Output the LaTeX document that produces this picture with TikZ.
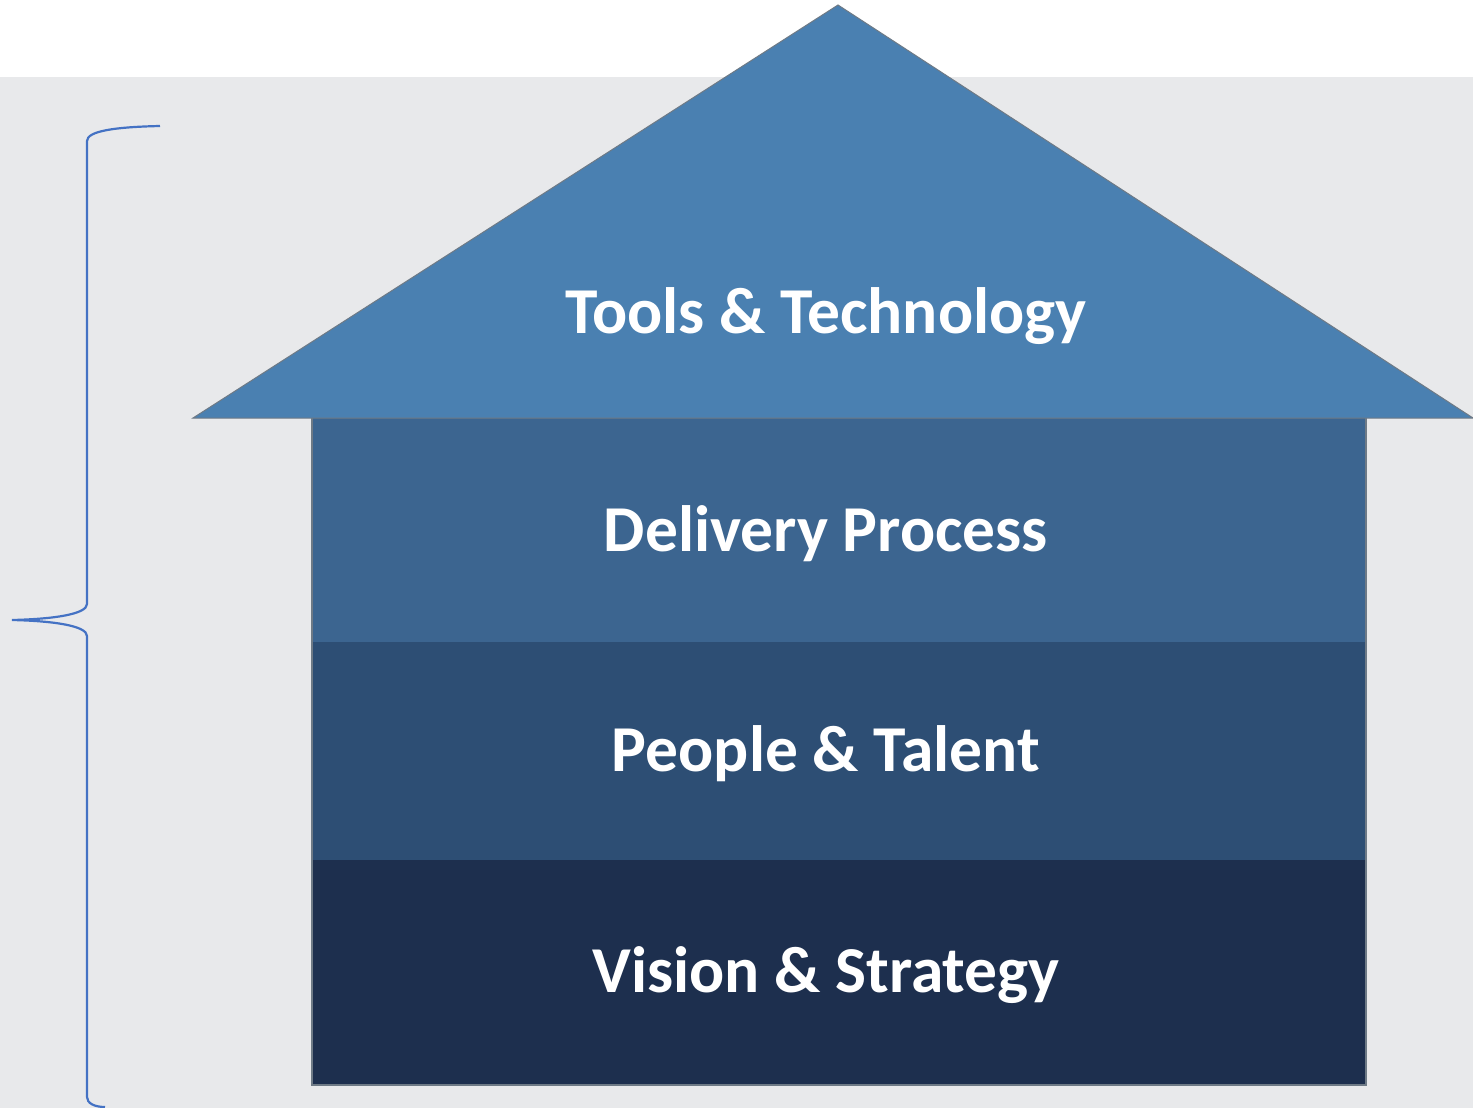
\documentclass[tikz,border=0pt]{standalone}
\usepackage{fontspec}
\setmainfont{Carlito}
\definecolor{bggray}{HTML}{E8E9EB}
\definecolor{roofblue}{HTML}{4A80B1}
\definecolor{procblue}{HTML}{3C6590}
\definecolor{peopleblue}{HTML}{2D4E74}
\definecolor{visionblue}{HTML}{1D2F4E}
\definecolor{edgegray}{HTML}{6E7A86}
\definecolor{bracecol}{HTML}{4472C4}
\tikzset{
  layerlabel/.style={text=white, font=\bfseries\fontsize{65.5}{72}\selectfont, inner sep=0pt, anchor=center},
  layer/.style={draw=none},
  bracket/.style={draw=bracecol, line width=2.2pt}
}
\begin{document}
\begin{tikzpicture}[x=1pt, y=-1pt]
  % canvas: white strip on top, light gray panel below
  \useasboundingbox (0,0) rectangle (1473,1108);
  \fill[white] (0,0) rectangle (1473,77);
  \fill[bggray] (0,77) rectangle (1473,1108);

  % house body: three stacked layers
  \fill[layer, visionblue] (312,860) rectangle (1366,1085);
  \fill[layer, peopleblue] (312,642) rectangle (1366,860);
  \fill[layer, procblue] (312,418) rectangle (1366,642);
  \draw[edgegray, line width=1.2pt] (312,418) -- (312,1085) -- (1366,1085) -- (1366,418);

  % roof
  \filldraw[fill=roofblue, draw=edgegray, line width=1pt]
    (193,418) -- (838,5) -- (1473,418) -- cycle;

  % labels
  \node[layerlabel] (tools) at (826,316) {Tools \& Technology};
  \node[layerlabel] (delivery) at (826,534) {Delivery Process};
  \node[layerlabel] (people) at (826,754) {People \& Talent};
  \node[layerlabel] (vision) at (826,975) {Vision \& Strategy};

  % left curly bracket
  \coordinate (btop) at (160,126);
  \coordinate (btip) at (12,620);
  \coordinate (bbot) at (105,1107);
  \draw[bracket] (btop) .. controls (115,127) and (87,131) .. (87,141)
    -- (87,604) .. controls (87,614) and (55,619) .. (btip)
    .. controls (55,621) and (87,626) .. (87,636)
    -- (87,1097) .. controls (87,1103) and (94,1107) .. (bbot);
\end{tikzpicture}
\end{document}
